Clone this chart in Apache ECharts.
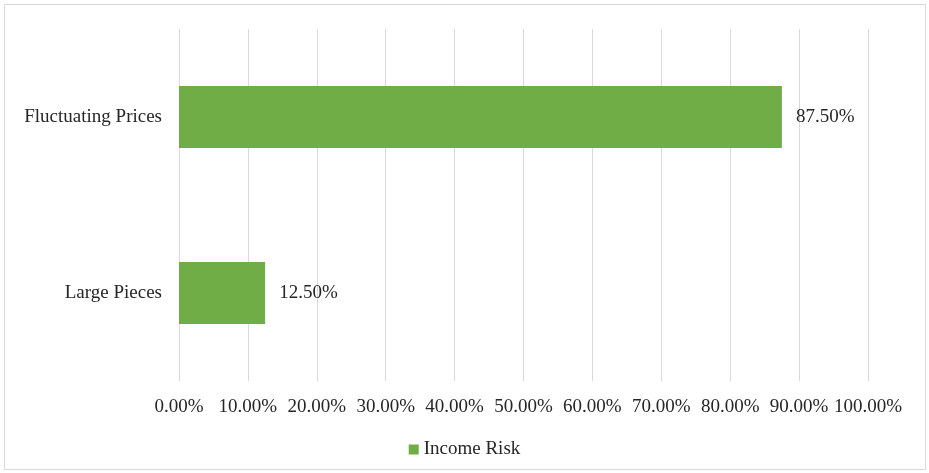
<!DOCTYPE html>
<html>
<head>
<meta charset="utf-8">
<script src="https://cdn.jsdelivr.net/npm/echarts@6/dist/echarts.min.js"></script>
<style>html,body{margin:0;padding:0;background:#fff}#c{width:929px;height:473px}</style>
</head>
<body>
<div id="c"></div>
<script>
const categories = ['Large Pieces', 'Fluctuating Prices'];
const incomeRisk = [12.5, 87.5];
const xTicks = [0, 10, 20, 30, 40, 50, 60, 70, 80, 90, 100];
const seriesName = 'Income Risk';

const font = '"Liberation Serif", "Times New Roman", serif';
const chart = echarts.init(document.getElementById('c'));
chart.setOption({
  animation: false,
  backgroundColor: '#fff',
  textStyle: { fontFamily: font },
  graphic: [{
    type: 'rect', shape: { x: 4.5, y: 4.5, width: 921, height: 465 },
    style: { fill: 'none', stroke: '#d9d9d9', lineWidth: 1 }, silent: true
  }],
  grid: { left: 179, right: 61, top: 29, bottom: 92, containLabel: false },
  xAxis: {
    type: 'value', min: xTicks[0], max: xTicks[xTicks.length - 1], interval: 10,
    axisLine: { show: false }, axisTick: { show: false },
    splitLine: { lineStyle: { color: '#d9d9d9', width: 1 } },
    axisLabel: { formatter: v => v.toFixed(2) + '%', color: '#262626', fontSize: 19, fontFamily: font, margin: 17 }
  },
  yAxis: {
    type: 'category', data: categories,
    axisLine: { show: false }, axisTick: { show: false },
    axisLabel: { color: '#262626', fontSize: 19, fontFamily: font, margin: 17 }
  },
  legend: {
    bottom: 9, left: 'center', itemWidth: 10, itemHeight: 10, itemGap: 10,
    icon: 'rect',
    textStyle: { color: '#262626', fontSize: 19, fontFamily: font },
    data: [seriesName]
  },
  series: [{
    name: seriesName, type: 'bar', data: incomeRisk, barWidth: 62,
    itemStyle: { color: '#70AD47' },
    label: { show: true, position: 'right', distance: 14, formatter: p => p.value.toFixed(2) + '%', color: '#262626', fontSize: 19, fontFamily: font }
  }]
});
</script>
</body>
</html>
